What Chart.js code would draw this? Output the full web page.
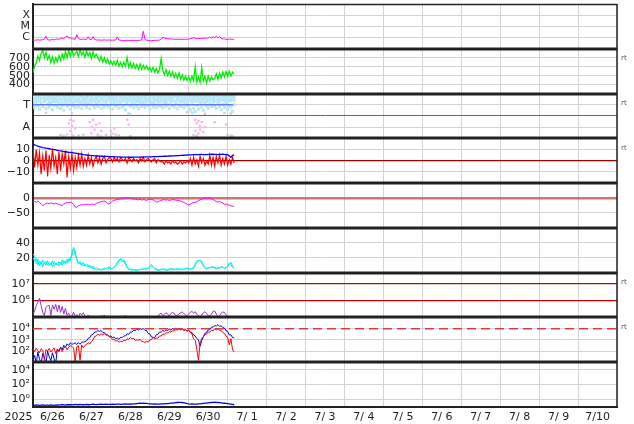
<!DOCTYPE html>
<html><head><meta charset="utf-8">
<script src="https://cdn.jsdelivr.net/npm/chart.js@4.4.1/dist/chart.umd.min.js"></script>
<style>html,body{margin:0;padding:0;background:#fff;}canvas{display:block;}</style>
</head><body>
<canvas id="c" width="634" height="424"></canvas>
<script>
// ---------- axis labels ----------
const dayLabels = ['6/26','6/27','6/28','6/29','6/30','7/ 1','7/ 2','7/ 3','7/ 4','7/ 5','7/ 6','7/ 7','7/ 8','7/ 9','7/10'];
const yearLabel = '2025';
const hoursPerDay = 24;

// ---------- panel 1: X-ray flux (W/m2), hourly ----------
const xrayFlux = [
6.2e-7,5.8e-7,6.0e-7,6.4e-7,5.9e-7,6.1e-7,6.6e-7,7.2e-7,
1.3e-6,
6.5e-7,6.0e-7,6.2e-7,6.8e-7,6.3e-7,7.0e-7,7.5e-7,7.0e-7,
8.5e-7,9.5e-7,8.0e-7,1.1e-6,1.4e-6,9.0e-7,1.0e-6,
8.0e-7,7.5e-7,7.0e-7,1.8e-6,8.0e-7,7.2e-7,6.8e-7,7.5e-7,
7.0e-7,6.8e-7,1.2e-6,7.0e-7,6.6e-7,1.2e-6,6.8e-7,6.2e-7,
6.0e-7,6.2e-7,5.8e-7,6.0e-7,6.3e-7,5.9e-7,6.0e-7,6.1e-7,
5.8e-7,6.0e-7,5.9e-7,6.2e-7,1.1e-6,6.0e-7,5.7e-7,5.6e-7,
5.6e-7,5.5e-7,5.7e-7,5.6e-7,5.5e-7,5.6e-7,5.5e-7,5.6e-7,
5.5e-7,5.6e-7,5.8e-7,6.0e-7,3.6e-6,7.0e-7,5.8e-7,5.6e-7,
5.5e-7,5.6e-7,5.5e-7,5.7e-7,5.6e-7,5.8e-7,6.0e-7,7.0e-7,
1.1e-6,9.0e-7,8.5e-7,8.0e-7,7.8e-7,7.5e-7,7.3e-7,7.2e-7,
7.0e-7,7.2e-7,7.0e-7,7.1e-7,6.9e-7,7.0e-7,7.2e-7,7.1e-7,
7.3e-7,7.8e-7,8.5e-7,1.0e-6,8.8e-7,8.0e-7,8.4e-7,8.2e-7,
8.6e-7,8.8e-7,9.2e-7,8.5e-7,9.5e-7,1.1e-6,9.0e-7,1.2e-6,
1.0e-6,1.3e-6,9.5e-7,1.2e-6,8.5e-7,7.8e-7,7.5e-7,7.2e-7,
7.0e-7,7.4e-7,7.2e-7,7.0e-7,7.1e-7];
const xrayTicks = [1e-6, 1e-5, 1e-4];
const xrayTickLabels = ['C', 'M', 'X'];

// ---------- panel 2: solar wind speed (km/s) ----------
const windSpeed = [
530,610,640,720,670,750,780,700,
760,680,725,645,710,640,700,655,
725,670,740,685,770,700,780,715,
790,720,745,770,715,790,730,765,
705,775,720,760,690,765,705,740,
700,665,715,650,700,640,685,630,
665,620,660,615,670,605,650,600,
650,605,700,595,645,585,635,580,
625,570,630,570,615,575,610,565,
595,545,590,540,580,530,570,690,
560,510,565,500,550,495,540,480,
525,470,530,460,510,450,495,445,
490,435,495,440,600,430,485,425,
590,440,490,420,495,440,485,455,
470,520,460,530,475,540,485,545,
490,550,495,540,515];
const windTicks = [400, 500, 600, 700];

// ---------- panel 3: IMF direction (deg) ----------
const imfDirUpper = [
335,320,345,330,340,325,350,335,320,340,330,345,325,338,322,344,
330,318,342,336,326,348,332,320,344,328,338,350,324,336,342,330,
320,340,334,346,328,318,342,336,326,344,330,322,338,346,332,326,
340,328,344,320,336,348,330,324,342,334,318,340,328,346,336,322,
338,330,344,326,340,332,348,322,336,342,328,320,344,334,326,340,
332,346,324,338,330,342,320,336,348,328,340,334,322,344,330,338,
326,342,318,336,330,344,328,340,322,346,334,326,340,332,348,324,
338,342,330,320,344,336,328,346,332,340,324,338,330];
const imfDirMid = [
305,295,315,300,310,290,320,298,308,312,294,318,302,296,314,306,
298,312,290,316,304,296,310,300,318,292,306,314,298,308,294,312,
302,316,294,308,300,312,296,318,304,292,310,300,314,296,306,318,
294,310,302,316,298,306,290,312,300,318,296,308,304,292,314,300,
310,296,318,302,292,312,306,298,316,300,294,310,304,318,296,308,
300,314,294,306,318,298,310,302,292,316,304,296,312,300,308,294,
318,302,290,310,296,314,300,306,292,318,304,296,312,300,308,316,
298,310,302,294,316,306,300,312,296,308,302,318,304];
const imfDirLower = [
270,245,290,260,235,280,255,300,240,275,250,285,230,265,295,250,
280,240,265,225,290,255,270,235,285,260,245,295,250,275,240,268,
285,250,272,238,290,260,245,280,255,295,240,270,250,285,262,245,
275,235,288,258,270,242,295,250,265,230,282,200,255,275,245,290,
260,240,285,255,270,248,292,262,238,280,252,275,245,290,258,268,
245,285,255,272,240,290,260,250,280,238,270,255,292,246,275,262,
250,230,205,240,215,265,235,278,250,225,285,260,242,275,255,290,
260,240,282,255,230,272,248,286,235,265,250,215,270];
const imfDirGrayHours = [2,5,17,18,20,22,27,29,36,38,41,44,46,50,52,54,65,76,84,98,99,101,104,106,110,114,118,120,122,
  8,24,60,95,106,118,122,
  17,19,21,25,28,31,40,42,45,48,51,53,60,99,101,120,122,123];
const imfDirGrayDeg = [352,350,354,351,353,350,352,349,351,354,350,352,353,351,350,352,351,353,350,352,354,351,350,353,351,352,350,353,351,
  205,200,195,210,198,205,200,
  28,20,32,18,25,30,22,16,28,20,30,24,18,26,20,28,22,18];
const imfDirPinkHours = [22,23,23,24,24,25,26, 35,36,36,37,38,39,40,41,42, 48,49,50, 58,59, 100,100,101,101,102,102,103,103,104,105,106, 112,119];
const imfDirPinkDeg = [120,150,60,30,100,140,80, 130,90,40,150,70,110,30,120,60, 60,40,80, 150,110, 150,60,120,20,140,40,100,70,130,50,90, 130,110];
const sectorLineHours = [0, 123.5];
const sectorLineDeg = [270, 270];
const dirTicks = [90, 180, 270];
const dirTickLabels = ['A', '', 'T'];

// ---------- panel 4: IMF Bt / Bz (nT) ----------
const imfBt = [
14.8,14.2,13.6,13.1,12.6,12.2,11.8,11.5,
11.2,11.0,10.7,10.4,10.2,10.0,9.6,9.3,
9.0,8.8,8.5,8.2,8.0,7.8,7.5,7.4,
7.2,7.0,6.8,6.5,6.2,6.0,5.8,5.5,
5.3,5.1,5.0,4.8,4.6,4.5,4.4,4.3,
4.2,4.1,4.0,4.0,3.9,3.8,3.8,3.7,
3.6,3.6,3.5,3.5,3.4,3.4,3.3,3.3,
3.3,3.2,3.2,3.2,3.1,3.1,3.2,3.2,
3.3,3.3,3.2,3.4,3.3,3.5,3.4,3.4,
3.5,3.5,3.6,3.6,3.7,3.7,3.8,3.8,
3.9,4.0,4.0,4.1,4.2,4.2,4.3,4.4,
4.5,4.5,4.6,4.7,4.8,4.9,5.0,5.1,
5.2,5.2,5.3,5.4,5.4,5.5,5.5,5.6,
5.6,5.5,5.4,5.5,5.6,5.7,5.8,5.8,
5.7,5.6,5.5,5.6,5.7,5.8,5.6,5.5,
5.4,4.2,3.0,4.8,5.2];
const imfBz = [
12,-6,10,-4,7,-12,4,-9,
9,-14,5,-7,11,-5,3,-12,
8,-9,6,-3,9,-15,4,-7,
6,-9,3,-6,5,-4,6,-5,
2,-4,5,-3,3,-5,1,4,
-2,3,-3,2,4,-2,1,3,
2,-1,3,0,2,-1,3,1,
0,2,-2,3,1,-1,2,0,
1,-2,2,0,3,-1,1,2,
0,-1,1,2,-2,1,0,-1,
-1,-3,0,-2,-1,-3,0,-2,
-1,-3,-2,0,-3,-1,-2,0,
-2,2,-4,3,-3,1,-5,4,
-2,2,-4,0,-3,5,-4,3,
-5,4,-2,5,-4,2,-3,4,
-4,1,-3,3,-2];
const imfTicks = [-10, 0, 10];
const imfTickLabels = ['\u221210', '0', '10'];

// ---------- panel 5: Dst (nT) ----------
const dstIndex = [
-11,-12,-14,-10,-15,-20,-25,-22,
-18,-17,-19,-16,-18,-20,-17,-19,
-21,-24,-25,-20,-17,-15,-16,-14,
-15,-22,-30,-31,-26,-24,-22,-23,
-21,-22,-20,-23,-21,-20,-22,-18,
-16,-14,-12,-11,-10,-13,-18,-20,
-15,-10,-8,-6,-5,-4,-2,-3,
-1,0,2,1,0,-2,-4,-3,
-5,-6,-4,-7,-5,-6,-8,-5,
-4,-5,-6,-9,-13,-14,-10,-8,
-6,-5,-7,-6,-8,-7,-5,-6,
-7,-8,-9,-10,-12,-15,-18,-21,
-23,-20,-17,-15,-14,-12,-9,-6,
-4,-2,-1,0,0,0,-2,-5,
-9,-12,-13,-12,-14,-17,-21,-20,
-22,-24,-26,-27,-28];
const dstTicks = [-50, 0];
const dstTickLabels = ['\u221250', '0'];

// ---------- panel 6: cyan series ----------
const densityA = [
25,22,12,18,9,15,8,14,
10,16,9,13,8,15,11,12,
9,14,10,16,12,18,14,20,
22,34,30,16,12,15,10,14,
9,12,8,10,6,9,5,7,
5,4,5,4,6,5,7,8,
6,5,7,9,12,15,18,16,
17,13,8,5,4,5,4,3,
4,3,5,4,6,5,4,6,
8,10,7,5,4,3,4,5,
4,5,3,4,5,6,4,5,
4,6,5,4,5,4,6,5,
6,4,5,7,12,16,15,17,
13,8,6,5,7,6,8,7,
6,5,7,6,8,7,5,6,
9,13,11,7,6];
const densityB = [
20,16,19,10,16,11,17,12,
15,10,14,11,16,9,13,10,
15,11,17,12,15,13,19,16,
28,32,24,18,14,11,13,9,
11,8,10,7,8,5,6,4,
4,5,3,5,4,6,5,6,
5,6,8,10,14,17,19,15,
15,11,7,4,5,3,4,4,
3,4,4,5,4,6,5,5,
9,11,8,6,5,4,3,4,
5,4,4,3,4,5,5,4,
5,5,4,5,4,5,5,6,
5,5,6,6,10,14,17,16,
15,10,7,6,6,7,7,8,
7,6,6,7,7,8,6,7,
8,11,14,9,7];
const densityTicks = [20, 40];

// ---------- panel 7: proton flux ----------
const protonFlux = [
1.5e5,2.5e5,5e5,8e5,1.4e6,5e5,2e5,1.3e5,
4e5,5e5,5.2e5,1.3e5,5.5e5,3e5,6e5,2.2e5,
5.5e5,2e5,4.5e5,1.6e5,3.5e5,1.3e5,1.8e5,1.1e5,
1.2e5,2e5,1.1e5,1.5e5,9e4,1.8e5,1.4e5,1.9e5,
1.2e5,1.0e5,1.4e5,1.1e5,9e4,8e4,8e4,8e4,
8e4,8e4,1.3e5,1.1e5,1.4e5,1e5,8e4,8e4,
1.2e5,9e4,8e4,8e4,8e4,8e4,8e4,8e4,
1.1e5,1.3e5,1e5,8e4,8e4,8e4,8e4,8e4,
8e4,8e4,8e4,8e4,8e4,8e4,8e4,8e4,
8e4,8e4,8e4,8e4,8e4,1.1e5,1.6e5,1.8e5,
1.3e5,1.5e5,1.9e5,1.6e5,1.2e5,1.7e5,2e5,1.8e5,
1.3e5,1.2e5,1.6e5,1.9e5,2.1e5,1.7e5,1.4e5,1.3e5,
1.6e5,2e5,2.3e5,1.8e5,2.2e5,1.5e5,1.3e5,1.1e5,
1.4e5,1.9e5,2.2e5,1.7e5,1.3e5,1.2e5,1.6e5,2.3e5,
2.4e5,1.6e5,1.1e5,1.2e5,1.8e5,2.1e5,2.0e5,1.4e5,
1.2e5,1.1e5,1.0e5,9e4,9e4];
const protonTicks = [1e6, 1e7];
const protonTickLabels = ['10\u2076', '10\u2077'];

// ---------- panel 8: electron flux ----------
const electronRed = [
150,90,180,110,70,160,120,15,
140,100,170,80,130,190,60,150,
110,200,90,180,250,130,220,300,
260,180,12,240,300,15,350,200,
320,380,560,420,700,1000,2000,2200,
3200,2600,3600,2900,3500,2700,2900,1800,
1700,1050,1150,750,850,620,750,650,
950,820,1250,1100,1700,1250,1350,900,
1000,950,1150,700,680,600,750,620,
1000,1050,1700,1250,1450,1400,2200,2200,
3400,3100,4500,4000,5600,4900,6700,5800,
8400,7600,10000,7900,9500,7200,7800,5900,
6700,4500,3300,1300,900,130,15,450,
1400,1800,3100,3100,5000,4900,7200,6700,
9000,8000,9500,6700,6700,4500,3900,2200,
1600,350,1300,130,80];
const electronBlue = [
15,40,8,80,20,8,60,25,
8,100,30,14,70,20,8,150,
90,220,130,330,220,440,310,550,
400,450,530,390,560,400,610,630,
680,800,1350,1600,2800,3100,5000,4900,
6700,5800,6700,4500,4500,2700,2800,2000,
2250,1600,1800,1250,1450,1070,1700,1600,
2250,2200,3400,3100,5000,4900,7300,6700,
9000,7600,10000,8500,10000,7100,6700,3600,
3400,1800,1700,1600,2800,3100,5000,4900,
6700,5800,7800,6700,9000,7600,10000,8500,
11000,8900,10600,8000,9500,7100,8400,6200,
7300,4900,4500,2700,2200,1300,1000,270,
900,1800,3900,4500,7800,8000,13500,13400,
19000,17000,22500,16000,18000,12500,11200,6200,
5600,2700,2800,1600,1500];
const electronAlertLevel = [1e4, 1e4];
const electronAlertHours = [0, 360];
const electronTicks = [1e2, 1e3, 1e4];
const electronTickLabels = ['10\u00b2', '10\u00b3', '10\u2074'];

// ---------- panel 9: lower flux ----------
const lowerFlux = [
0.18,0.17,0.19,0.18,0.17,0.18,0.19,0.17,0.18,0.18,0.17,0.19,0.18,0.17,0.18,0.19,
0.18,0.19,0.2,0.19,0.18,0.2,0.21,0.2,0.19,0.2,0.22,0.21,0.2,0.22,0.21,0.2,
0.21,0.22,0.2,0.21,0.22,0.24,0.22,0.21,0.23,0.22,0.24,0.23,0.22,0.24,0.23,0.22,
0.23,0.24,0.22,0.23,0.25,0.24,0.23,0.25,0.24,0.26,0.25,0.24,0.26,0.25,0.27,0.26,
0.28,0.3,0.32,0.3,0.33,0.31,0.3,0.28,0.27,0.26,0.25,0.26,0.25,0.24,0.25,0.26,
0.26,0.27,0.28,0.29,0.3,0.32,0.34,0.36,0.38,0.4,0.42,0.42,0.4,0.36,0.32,0.28,
0.26,0.25,0.26,0.25,0.24,0.25,0.26,0.27,0.28,0.3,0.32,0.34,0.36,0.38,0.4,0.42,
0.44,0.42,0.4,0.38,0.36,0.34,0.32,0.3,0.28,0.26,0.24,0.22,0.2];
const lowerTicks = [1e0, 1e2, 1e4];
const lowerTickLabels = ['10\u2070', '10\u00b2', '10\u2074'];

// ================= chart construction =================
Chart.defaults.font.family = "'DejaVu Sans', sans-serif";
Chart.defaults.font.size = 11;
Chart.defaults.color = '#222';

const GRID = '#d4d4d4';
const toXY = arr => arr.map((v, i) => ({x: i, y: v}));
const pairXY = (xs, ys) => xs.map((x, i) => ({x: x, y: ys[i]}));

function line(data, axis, color, width) {
  return {data, yAxisID: axis, borderColor: color, borderWidth: width || 1, pointRadius: 0,
          fill: false, tension: 0, spanGaps: false};
}
function dots(data, axis, color, r) {
  return {data, yAxisID: axis, showLine: false, pointRadius: r, pointStyle: 'rect',
          pointBackgroundColor: color, pointBorderWidth: 0, borderColor: color};
}

function yAxis(weight, cfg) {
  const ticks = cfg.ticks, labels = cfg.labels;
  return {
    type: cfg.type || 'linear',
    position: 'left', stack: 'panels', stackWeight: 1, weight: weight,
    min: cfg.min, max: cfg.max,
    grid: {drawTicks: false,
           color: c => (cfg.gridColor && c.tick && cfg.gridColor(c.tick.value)) || GRID,
           lineWidth: c => (cfg.gridWidth && c.tick && cfg.gridWidth(c.tick.value)) || 1},
    border: {display: true, color: '#222', width: 2},
    ticks: {autoSkip: false, padding: 3, color: '#222',
            callback: (v, i) => labels ? labels[i] : String(ticks[i])},
    afterBuildTicks: s => { s.ticks = ticks.map(v => ({value: v})); },
    afterFit: s => { s.width = 33; s.paddingTop = 0; s.paddingBottom = 0; }
  };
}

const datasets = [
  line(toXY(xrayFlux), 'y1', '#ff00ff', 1),
  line(toXY(windSpeed), 'y2', '#00ee00', 1.3),
  line(pairXY(sectorLineHours, sectorLineDeg), 'y3', '#6478f0', 1.5),
  dots(toXY(imfDirUpper), 'y3', '#b6e7fb', 2.1),
  dots(toXY(imfDirMid), 'y3', '#b6e7fb', 2.1),
  dots(toXY(imfDirLower), 'y3', '#b6e7fb', 2.1),
  dots(pairXY(imfDirGrayHours, imfDirGrayDeg), 'y3', '#cfcfcf', 1.7),
  dots(pairXY(imfDirPinkHours, imfDirPinkDeg), 'y3', '#f5b6ef', 1.7),
  line(toXY(imfBt), 'y4', '#0000ff', 1.3),
  line(toXY(imfBz), 'y4', '#ff0000', 1.2),
  line(toXY(dstIndex), 'y5', '#ff00ff', 1),
  line(toXY(densityA), 'y6', '#00eeee', 1),
  line(toXY(densityB), 'y6', '#00eeee', 1),
  line(toXY(protonFlux), 'y7', '#a030d0', 1),
  Object.assign(line(pairXY(electronAlertHours, electronAlertLevel), 'y8', '#e03a3a', 1.5), {borderDash: [9, 5]}),
  line(toXY(electronRed), 'y8', '#ff0000', 1),
  line(toXY(electronBlue), 'y8', '#0000ff', 1),
  line(toXY(lowerFlux), 'y9', '#0000ff', 1.3)
];

const panelIds = ['y1','y2','y3','y4','y5','y6','y7','y8','y9'];
const rtPanels = ['y2','y3','y4','y7','y8'];

const clipPlugin = {
  id: 'panelClip',
  beforeDatasetDraw(chart, args) {
    const ys = args.meta.yScale, a = chart.chartArea, ctx = chart.ctx;
    ctx.save(); ctx.beginPath();
    ctx.rect(a.left, ys.top, a.right - a.left, ys.bottom - ys.top);
    ctx.clip();
  },
  afterDatasetDraw(chart) { chart.ctx.restore(); }
};

const framePlugin = {
  id: 'frame',
  afterDraw(chart) {
    const ctx = chart.ctx, a = chart.chartArea;
    ctx.save();
    ctx.strokeStyle = '#222';
    ctx.lineWidth = 3;
    panelIds.slice(1).forEach(id => {
      const y = Math.round(chart.scales[id].top);
      ctx.beginPath(); ctx.moveTo(a.left, y); ctx.lineTo(a.right, y); ctx.stroke();
    });
    ctx.lineWidth = 1.5;
    ctx.beginPath(); ctx.moveTo(a.left, a.top + 0.5); ctx.lineTo(a.right, a.top + 0.5); ctx.stroke();
    ctx.lineWidth = 2;
    ctx.beginPath(); ctx.moveTo(a.left, a.bottom); ctx.lineTo(a.right, a.bottom); ctx.stroke();
    ctx.lineWidth = 1.5;
    ctx.beginPath(); ctx.moveTo(a.right, a.top); ctx.lineTo(a.right, a.bottom); ctx.stroke();
    // rt labels
    ctx.fillStyle = '#555';
    ctx.font = "7px 'DejaVu Sans', sans-serif";
    ctx.textAlign = 'left'; ctx.textBaseline = 'middle';
    rtPanels.forEach(id => ctx.fillText('rt', a.right + 4, chart.scales[id].top + 9.5));
    // year label
    ctx.fillStyle = '#222';
    ctx.font = "11px 'DejaVu Sans', sans-serif";
    ctx.textAlign = 'center'; ctx.textBaseline = 'middle';
    ctx.fillText(yearLabel, 18.5, 417);
    ctx.restore();
  }
};

new Chart(document.getElementById('c'), {
  type: 'line',
  data: {datasets},
  options: {
    responsive: false, animation: false, devicePixelRatio: 1,
    parsing: false, normalized: true,
    layout: {padding: {top: 2, right: 17, left: 0, bottom: 0}},
    plugins: {legend: {display: false}, tooltip: {enabled: false}},
    events: [],
    scales: {
      x: {
        type: 'linear', position: 'bottom', min: 0, max: dayLabels.length * hoursPerDay,
        grid: {drawTicks: false, color: c => (c.tick && c.tick.value % hoursPerDay === 0) ? GRID : 'rgba(0,0,0,0)'},
        border: {display: true, color: '#222', width: 2},
        ticks: {autoSkip: false, maxRotation: 0, padding: 4, color: '#222',
                callback: v => (v % hoursPerDay === hoursPerDay / 2) ? dayLabels[(v - hoursPerDay / 2) / hoursPerDay] : ''},
        afterBuildTicks: s => {
          const t = [];
          for (let i = 0; i <= dayLabels.length * 2; i++) t.push({value: i * hoursPerDay / 2});
          s.ticks = t;
        },
        afterFit: s => { s.height = 17; s.paddingLeft = 0; s.paddingRight = 0; }
      },
      y1: yAxis(9, {type: 'logarithmic', min: 1e-7, max: 1e-3, ticks: xrayTicks, labels: xrayTickLabels}),
      y2: yAxis(8, {min: 300, max: 800, ticks: windTicks}),
      y3: yAxis(7, {min: 0, max: 360, ticks: dirTicks, labels: dirTickLabels,
                    gridColor: v => v === 180 ? '#666' : null}),
      y4: yAxis(6, {min: -20, max: 20, ticks: imfTicks, labels: imfTickLabels,
                    gridColor: v => v === 0 ? '#a00000' : null, gridWidth: v => v === 0 ? 1.2 : null}),
      y5: yAxis(5, {min: -100, max: 50, ticks: dstTicks, labels: dstTickLabels,
                    gridColor: v => v === 0 ? 'rgba(200,90,90,0.85)' : null, gridWidth: v => v === 0 ? 2.5 : null}),
      y6: yAxis(4, {min: 0, max: 60, ticks: densityTicks}),
      y7: yAxis(3, {type: 'logarithmic', min: 1e5, max: 4.5e7, ticks: protonTicks, labels: protonTickLabels,
                    gridColor: () => '#cc0000', gridWidth: () => 1.2}),
      y8: yAxis(2, {type: 'logarithmic', min: 1e1, max: 1e5, ticks: electronTicks, labels: electronTickLabels}),
      y9: yAxis(1, {type: 'logarithmic', min: 1e-1, max: 1e5, ticks: lowerTicks, labels: lowerTickLabels})
    }
  },
  plugins: [clipPlugin, framePlugin]
});
</script>
</body></html>
